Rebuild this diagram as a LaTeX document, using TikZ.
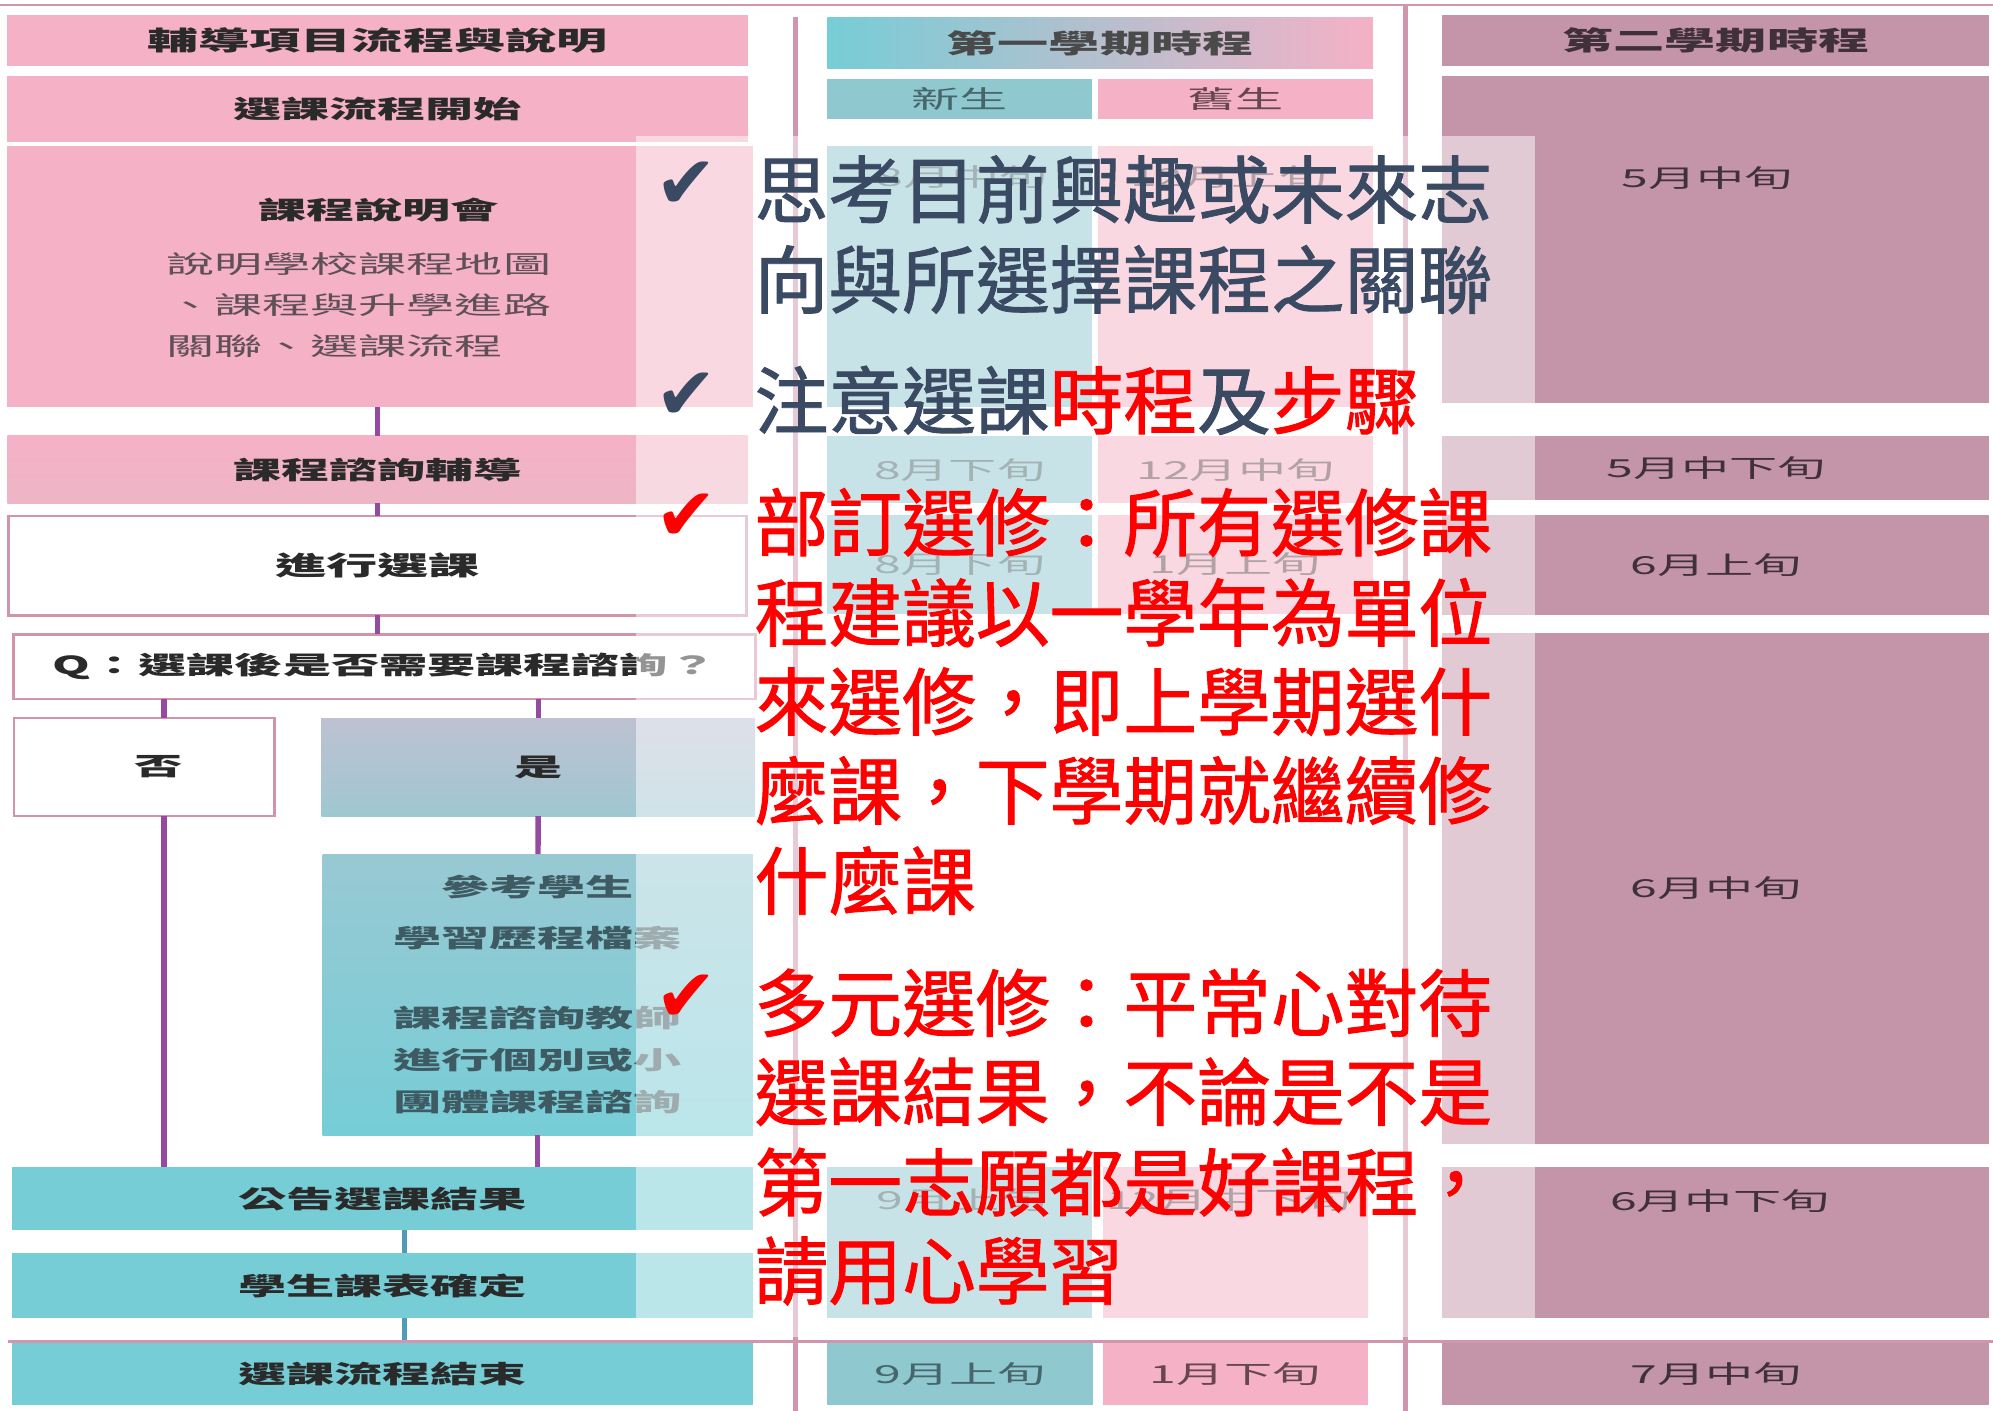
\documentclass[tikz,border=0pt]{standalone}
\usepackage{fontspec}
\setmainfont{Noto Sans CJK TC}
\newfontfamily\widecjk[FakeStretch=1.94]{Noto Sans CJK TC}
\newfontfamily\tipcjk[FakeBold=1.2]{Noto Sans CJK TC}
\newfontfamily\tickfont{DejaVu Sans}

\definecolor{pinkbox}{HTML}{F5B1C6}
\definecolor{pinklow}{HTML}{EDB5C5}
\definecolor{tealbox}{HTML}{76CDD6}
\definecolor{newbox}{HTML}{8FC8CF}
\definecolor{mauvebox}{HTML}{C495A9}
\definecolor{yestop}{HTML}{BEC1D1}
\definecolor{yesbottom}{HTML}{9FC7D1}
\definecolor{refertop}{HTML}{98C9D3}
\definecolor{rulecol}{HTML}{D195AD}
\definecolor{edge}{HTML}{D294AD}
\definecolor{flow}{HTML}{9649A0}
\definecolor{flowteal}{HTML}{4F9CB4}
\definecolor{slate}{HTML}{3B4A63}
\definecolor{steptext}{HTML}{2A2A2A}
\definecolor{notetext}{HTML}{5F5058}
\definecolor{refertext}{HTML}{3E5A62}
\definecolor{newtext}{HTML}{46666C}
\definecolor{oldtext}{HTML}{654651}
\definecolor{mauvetext}{HTML}{3F3039}

\newcommand\stepfont{\widecjk\fontsize{5.55}{9.4}\selectfont\bfseries}
\newcommand\headfont{\widecjk\fontsize{5.9}{9.4}\selectfont\bfseries}
\newcommand\notefont{\widecjk\fontsize{5.55}{9.25}\selectfont}
\newcommand\datetxt{\widecjk\fontsize{5.55}{9.4}\selectfont}
\newcommand\tipfont{\tipcjk\fontsize{16.5}{20}\selectfont}

\begin{document}
\begin{tikzpicture}[x=0.01cm,y=-0.01cm,
pinkstep/.style={rectangle,fill=pinkbox,inner sep=0pt,outer sep=0pt,font=\stepfont,text=steptext},
tealstep/.style={pinkstep,fill=tealbox},
openstep/.style={pinkstep,fill=white,draw=edge,line width=0.6pt},
newcell/.style={rectangle,fill=newbox,inner sep=0pt,outer sep=0pt,font=\datetxt,text=newtext},
oldcell/.style={newcell,fill=pinkbox,text=oldtext},
latecell/.style={newcell,fill=mauvebox,text=mauvetext},
celltext/.style={inner sep=0pt,font=\datetxt},
flowline/.style={draw=flow,line width=1.2pt},
tealline/.style={draw=flowteal,line width=1.1pt},
sepline/.style={draw=rulecol,line width=0.6pt},
tipline/.style={anchor=west,inner sep=0pt,font=\tipfont,text=slate},
tick/.style={inner sep=0pt,font=\tickfont\fontsize{16.5}{16.5}\selectfont}]

\useasboundingbox (0,0) rectangle (1568,1110);

% separators
\draw[sepline] (0,4) -- (1568,4);
\draw[sepline,line width=1.1pt] (626,13) -- (626,1110);
\draw[sepline,line width=1.1pt] (1105.5,4) -- (1105.5,1110);

% flow of the course selection
\node[pinkstep,minimum width=5.82cm,minimum height=0.40cm,font=\headfont] (flowhead) at (297,32) {輔導項目流程與說明};
\node[pinkstep,minimum width=5.82cm,minimum height=0.52cm] (start) at (297,86) {選課流程開始};
\node[pinkstep,minimum width=5.86cm,minimum height=2.05cm] (brief) at (299,217.5) {};
\node[celltext,font=\stepfont,text=steptext] (brief-title) at (298,165) {課程說明會};
\node[celltext,font=\notefont,text=notetext,align=left,anchor=west] (brief-text) at (130,240) {說明學校課程地圖\\、課程與升學進路\\關聯、選課流程};
\node[pinkstep,top color=pinkbox,bottom color=pinklow,minimum width=5.82cm,minimum height=0.53cm] (consult) at (297,369.5) {課程諮詢輔導};
\node[openstep,minimum width=5.80cm,minimum height=0.78cm,font=\headfont] (choose) at (297,445) {進行選課};
\node[openstep,minimum width=5.83cm,minimum height=0.51cm] (question) at (302.5,524.5) {Q：選課後是否需要課程諮詢？};
\node[openstep,minimum width=2.05cm,minimum height=0.77cm] (no) at (113.5,603.5) {};
\node[celltext,font=\stepfont,text=steptext] (no-text) at (125,603) {否};
\node[pinkstep,top color=yestop,bottom color=yesbottom,minimum width=3.41cm,minimum height=0.77cm] (yes) at (423.5,603.5) {是};
\node[tealstep,top color=refertop,bottom color=tealbox,minimum width=3.38cm,minimum height=2.21cm,align=center,text=refertext] (refer) at (423,782.5) {參考學生\\[0.7mm]學習歷程檔案\\[3mm]課程諮詢教師\\進行個別或小\\團體課程諮詢};
\node[tealstep,minimum width=5.82cm,minimum height=0.50cm] (announce) at (301,943) {公告選課結果};
\node[tealstep,minimum width=5.82cm,minimum height=0.51cm] (confirm) at (301,1011.5) {學生課表確定};
\node[tealstep,minimum width=5.82cm,minimum height=0.49cm] (finish) at (301,1081) {選課流程結束};

\draw[flowline] (consult.north) -- (consult.north |- brief.south);
\draw[flowline] (consult) -- (choose);
\draw[flowline] (choose.south) -- (choose.south |- question.north);
\draw[flowline] ([xshift=0.155cm]no.north) -- ([xshift=0.155cm]no.north |- question.south);
\draw[flowline] (yes.north) -- (yes.north |- question.south);
\draw[flowline] ([xshift=0.155cm]no.south) -- ([xshift=0.155cm]no.south |- announce.north);
\draw[flowline] (yes) -- (refer);
\draw[flowline] (refer.south) -- (refer.south |- announce.north);
\draw[tealline] ([xshift=0.17cm]announce.south) -- ([xshift=0.17cm]confirm.north);
\draw[tealline] ([xshift=0.17cm]confirm.south) -- ([xshift=0.17cm]finish.north);

% first term
\node[pinkstep,left color=tealbox,right color=pinkbox,minimum width=4.29cm,minimum height=0.40cm,font=\headfont,text=steptext!85] (term1) at (865.5,34) {第一學期時程};
\node[newcell,minimum width=2.08cm,minimum height=0.31cm] (new) at (755,78) {新生};
\node[oldcell,minimum width=2.16cm,minimum height=0.31cm] (old) at (972,78) {舊生};
\node[newcell,minimum width=2.08cm,minimum height=2.05cm] (new1) at (755,217.5) {};
\node[celltext,text=newtext] (new1-date) at (757,139) {8月中旬};
\node[oldcell,minimum width=2.16cm,minimum height=2.05cm] (old1) at (972,217.5) {};
\node[celltext,text=oldtext] (old1-date) at (967,139) {12月上旬};
\node[newcell,minimum width=2.08cm,minimum height=0.53cm] (new2) at (755,369.5) {8月下旬};
\node[oldcell,minimum width=2.16cm,minimum height=0.53cm] (old2) at (972,369.5) {12月中旬};
\node[newcell,minimum width=2.08cm,minimum height=0.78cm] (new3) at (755,444) {8月下旬};
\node[oldcell,minimum width=2.16cm,minimum height=0.78cm] (old3) at (972,444) {1月上旬};
\node[newcell,minimum width=2.08cm,minimum height=1.19cm] (new4) at (755,977.5) {};
\node[celltext,text=newtext] (new4-date) at (757,944) {9月上旬};
\node[oldcell,minimum width=2.08cm,minimum height=1.19cm] (old4) at (972,977.5) {};
\node[celltext,text=oldtext] (old4-date) at (967,944) {12月中下旬};
\node[newcell,minimum width=2.09cm,minimum height=0.49cm] (new5) at (755.5,1081) {9月上旬};
\node[oldcell,minimum width=2.08cm,minimum height=0.49cm] (old5) at (972,1081) {1月下旬};

% second term
\node[latecell,minimum width=4.30cm,minimum height=0.40cm,font=\headfont] (term2) at (1350,32) {第二學期時程};
\node[latecell,minimum width=4.30cm,minimum height=2.57cm] (may1) at (1350,188.5) {};
\node[celltext,text=mauvetext] (may1-date) at (1343,140) {5月中旬};
\node[latecell,minimum width=4.30cm,minimum height=0.50cm] (may2) at (1350,368) {5月中下旬};
\node[latecell,minimum width=4.30cm,minimum height=0.79cm] (jun1) at (1350,444.5) {6月上旬};
\node[latecell,minimum width=4.30cm,minimum height=4.02cm] (jun2) at (1350,699) {6月中旬};
\node[latecell,minimum width=4.30cm,minimum height=1.19cm] (jun3) at (1350,977.5) {};
\node[celltext,text=mauvetext] (jun3-date) at (1353,945) {6月中下旬};
\node[latecell,minimum width=4.30cm,minimum height=0.49cm] (jul) at (1350,1081) {7月中旬};

\draw[sepline] (6,1055.5) -- (1568,1055.5);

% veil under the tips
\fill[white,opacity=0.5] (500,107) rectangle (1208,1052);

% tips
\node[tick,text=slate] (tick1) at (540,146) {✔};
\node[tick,text=slate] (tick2) at (540,312) {✔};
\node[tick,text=red] (tick3) at (540,407) {✔};
\node[tick,text=red] (tick4) at (540,785) {✔};

\foreach \n/\yy/\txt in {1/149/思考目前興趣或未來志,2/220/向與所選擇課程之關聯}
  \node[tipline] (tip\n) at (593,\yy) {\txt};
\node[tipline] (tip3) at (593,315) {注意選課\textcolor{red}{時程}及\textcolor{red}{步驟}};
\foreach \n/\yy/\txt in {4/411/部訂選修：所有選修課,5/482/程建議以一學年為單位,6/552/來選修，即上學期選什,
    7/622/麼課，下學期就繼續修,8/693/什麼課,9/789/多元選修：平常心對待,10/859/選課結果，不論是不是,
    11/930/第一志願都是好課程，,12/1000/請用心學習}
  \node[tipline,text=red] (tip\n) at (593,\yy) {\txt};

\end{tikzpicture}
\end{document}
